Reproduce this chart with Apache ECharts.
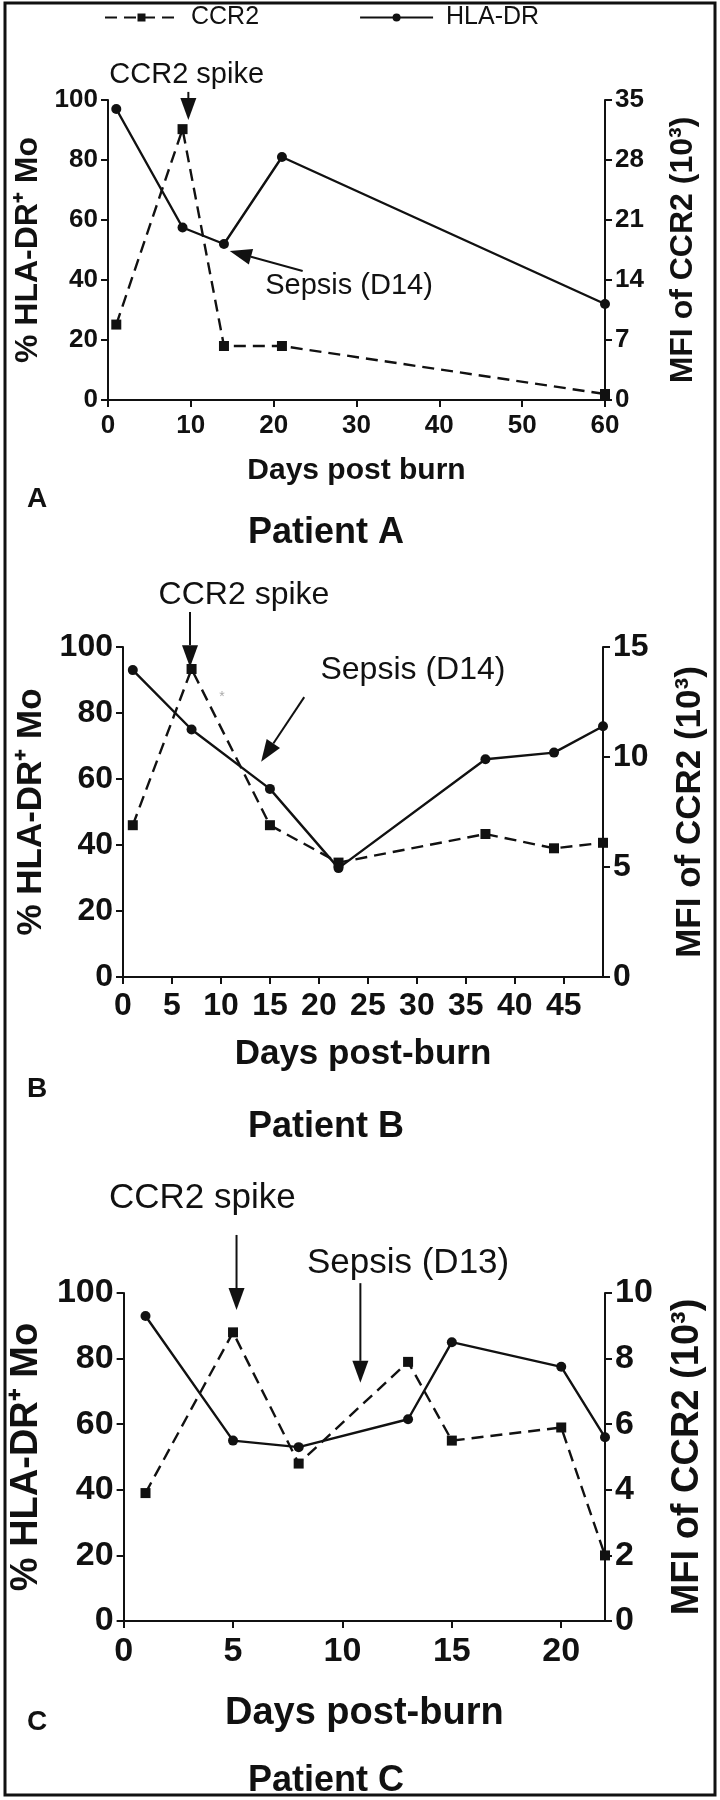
<!DOCTYPE html>
<html>
<head>
<meta charset="utf-8">
<script src="https://cdn.jsdelivr.net/npm/echarts@6/dist/echarts.min.js"></script>
<style>
  html, body { margin: 0; padding: 0; background: #fff; }
  #main { width: 720px; height: 1800px; }
</style>
</head>
<body>
<div id="main"></div>
<script>
// Patient A
var daysA = [1, 9, 14, 21, 60];
var hlaA = [97, 57.5, 52, 81, 32];
var ccr2A = [8.8, 31.6, 6.3, 6.3, 0.7];

// Patient B
var daysB = [1, 7, 15, 22, 37, 44, 49];
var hlaB = [93, 75, 57, 33, 66, 68, 76];
var ccr2B = [6.9, 14.0, 6.9, 5.2, 6.5, 5.85, 6.1];

// Patient C
var daysC = [1, 5, 8, 13, 15, 20, 22];
var hlaC = [93, 55, 53, 61.5, 85, 77.5, 56];
var ccr2C = [3.9, 8.8, 4.8, 7.9, 5.5, 5.9, 2.0];

// axis settings per panel
var xTitles = ['Days post burn', 'Days post-burn', 'Days post-burn'];
var patientTitles = ['Patient A', 'Patient B', 'Patient C'];
var panelLetters = ['A', 'B', 'C'];
var xMax = [60, 49, 22];
var xStep = [10, 5, 5];
var mfiMax = [35, 15, 10];
var mfiStep = [7, 5, 2];

var FONT = '"Liberation Sans", Arial, sans-serif';
var INK = '#111';

var chart = echarts.init(document.getElementById('main'));

// layout of each panel (pixels)
var layout = [
  { left: 108, right: 115, top: 100, height: 300, tick: 26, title: 32, xTitle: 30, note: 29,
    yGapL: 60, yGapR: 62, xGap: 56, xMargin: 13, patientY: 510, letterY: 480 },
  { left: 123, right: 117, top: 647, height: 330, tick: 32, title: 35, xTitle: 35, note: 32,
    yGapL: 68, yGapR: 70, xGap: 60, xMargin: 13, patientY: 1104, letterY: 1070 },
  { left: 123, right: 115, top: 1293, height: 328, tick: 34, title: 38, xTitle: 38, note: 35,
    yGapL: 68, yGapR: 64, xGap: 74, xMargin: 14, patientY: 1758, letterY: 1703 }
];

function pairs(xs, ys) {
  return xs.map(function (x, i) { return [x, ys[i]]; });
}

var days = [daysA, daysB, daysC];
var hla = [hlaA, hlaB, hlaC];
var ccr2 = [ccr2A, ccr2B, ccr2C];

var grids = [], xAxes = [], yAxes = [], series = [], titles = [];

function axisBase(size) {
  return {
    axisLine: { show: true, onZero: false, lineStyle: { color: INK, width: 2 } },
    axisTick: { show: true, length: 7, lineStyle: { color: INK, width: 2 } },
    splitLine: { show: false },
    axisLabel: { color: INK, fontSize: size, fontWeight: 'bold', fontFamily: FONT, margin: 10 }
  };
}

layout.forEach(function (L, i) {
  grids.push({ left: L.left, right: L.right, top: L.top, height: L.height });

  var xa = axisBase(L.tick);
  Object.assign(xa, {
    gridIndex: i, type: 'value', min: 0, max: xMax[i], interval: xStep[i],
    name: xTitles[i], nameLocation: 'middle', nameGap: L.xGap,
    nameTextStyle: { color: INK, fontSize: L.xTitle, fontWeight: 'bold', fontFamily: FONT }
  });
  xa.axisLabel.margin = L.xMargin;
  xa.axisLabel.showMaxLabel = (i === 0);
  xAxes.push(xa);

  var yl = axisBase(L.tick);
  Object.assign(yl, {
    gridIndex: i, type: 'value', position: 'left', min: 0, max: 100, interval: 20,
    name: '% HLA-DR\u207A Mo', nameLocation: 'middle', nameRotate: 90, nameGap: L.yGapL,
    nameTextStyle: { color: INK, fontSize: L.title, fontWeight: 'bold', fontFamily: FONT }
  });
  yAxes.push(yl);

  var yr = axisBase(L.tick);
  Object.assign(yr, {
    gridIndex: i, type: 'value', position: 'right', min: 0, max: mfiMax[i], interval: mfiStep[i],
    name: 'MFI of CCR2 (10\u00B3)', nameLocation: 'middle', nameRotate: 90, nameGap: L.yGapR,
    nameTextStyle: { color: INK, fontSize: L.title, fontWeight: 'bold', fontFamily: FONT }
  });
  yAxes.push(yr);

  series.push({
    name: 'CCR2', type: 'line', xAxisIndex: i, yAxisIndex: 2 * i + 1,
    data: pairs(days[i], ccr2[i]), clip: false,
    symbol: 'rect', symbolSize: 10,
    lineStyle: { color: INK, width: 2.4, type: [12, 7] },
    itemStyle: { color: INK }
  });
  series.push({
    name: 'HLA-DR', type: 'line', xAxisIndex: i, yAxisIndex: 2 * i, z: 3,
    data: pairs(days[i], hla[i]), clip: false,
    symbol: 'circle', symbolSize: 10,
    lineStyle: { color: INK, width: 2.4 },
    itemStyle: { color: INK }
  });

  titles.push({
    text: patientTitles[i], left: 321, top: L.patientY, textAlign: 'center',
    textStyle: { color: INK, fontSize: 36, fontWeight: 'bold', fontFamily: FONT }
  });
  titles.push({
    text: panelLetters[i], left: 22, top: L.letterY,
    textStyle: { color: INK, fontSize: 28, fontWeight: 'bold', fontFamily: FONT }
  });
});

chart.setOption({
  animation: false,
  backgroundColor: '#fff',
  title: titles,
  legend: {
    top: 0, left: 99, itemWidth: 73, itemHeight: 10, itemGap: 100,
    data: ['CCR2', 'HLA-DR'],
    textStyle: { color: INK, fontSize: 25, fontFamily: FONT, padding: [0, 0, 0, 8] }
  },
  grid: grids,
  xAxis: xAxes,
  yAxis: yAxes,
  series: series
});

// annotations, anchored in each panel's data coordinates
var notes = [
  { g: 0, text: 'CCR2 spike', at: [9.5, 108.3], from: [9.7, 102.7], to: [9.7, 93.3] },
  { g: 0, text: 'Sepsis (D14)', at: [29.1, 38], from: [23.5, 43], to: [14.7, 49.7] },
  { g: 1, text: 'CCR2 spike', at: [12.35, 115.8], from: [6.84, 110.6], to: [6.84, 93.9] },
  { g: 1, text: 'Sepsis (D14)', at: [29.6, 93], from: [18.5, 84.8], to: [14.1, 65.2] },
  { g: 2, text: 'CCR2 spike', at: [3.6, 129], from: [5.16, 117.7], to: [5.16, 94.8] },
  { g: 2, text: 'Sepsis (D13)', at: [13.0, 109.1], from: [10.82, 103], to: [10.82, 72.6] }
];

function toPx(g, p) {
  return chart.convertToPixel({ xAxisIndex: g, yAxisIndex: 2 * g }, p);
}

var graphics = [{
  type: 'rect', shape: { x: 5, y: 3, width: 710, height: 1792 },
  style: { fill: 'none', stroke: INK, lineWidth: 3 }, silent: true
}];

// faint asterisk printed in panel B
var star = toPx(1, [10.1, 84.8]);
graphics.push({
  type: 'text', x: star[0], y: star[1],
  style: { text: '*', fill: '#aaa', font: '14px ' + FONT, textAlign: 'center', textVerticalAlign: 'middle' }
});

notes.forEach(function (n) {
  var c = toPx(n.g, n.at);
  graphics.push({
    type: 'text', x: c[0], y: c[1],
    style: {
      text: n.text, fill: INK, font: layout[n.g].note + 'px ' + FONT,
      textAlign: 'center', textVerticalAlign: 'middle'
    }
  });
  var a = toPx(n.g, n.from), b = toPx(n.g, n.to);
  var dx = b[0] - a[0], dy = b[1] - a[1];
  var len = Math.sqrt(dx * dx + dy * dy);
  var ux = dx / len, uy = dy / len;
  var headLen = 22, headW = 8;
  var bx = b[0] - ux * headLen, by = b[1] - uy * headLen;
  graphics.push({
    type: 'line', shape: { x1: a[0], y1: a[1], x2: bx, y2: by },
    style: { stroke: INK, lineWidth: 2 }
  });
  graphics.push({
    type: 'polygon',
    shape: { points: [[b[0], b[1]], [bx - uy * headW, by + ux * headW], [bx + uy * headW, by - ux * headW]] },
    style: { fill: INK }
  });
});

chart.setOption({ graphic: graphics });
</script>
</body>
</html>
